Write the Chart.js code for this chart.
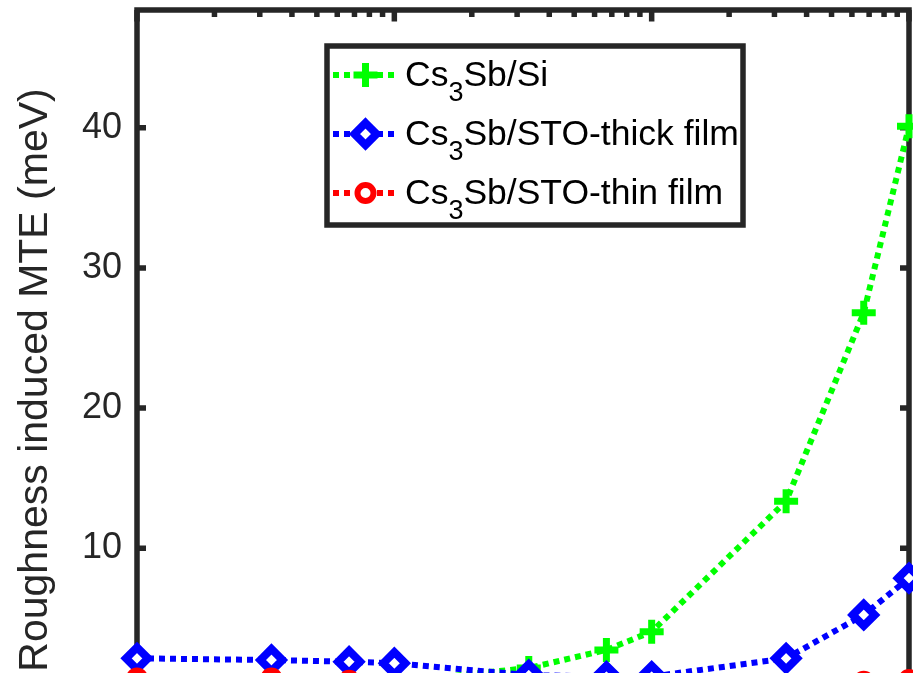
<!DOCTYPE html>
<html>
<head>
<meta charset="utf-8">
<script src="https://cdn.jsdelivr.net/npm/chart.js@4.4.1/dist/chart.umd.min.js"></script>
<style>
  html, body { margin: 0; padding: 0; background: #ffffff; overflow: hidden; }
  #wrap { width: 913px; height: 673px; overflow: hidden; position: relative; }
  canvas { display: block; }
</style>
</head>
<body>
<div id="wrap"><canvas id="chart" width="913" height="820"></canvas></div>
<script>
// Sample positions along the (logarithmic) horizontal axis
const xValues = [1, 3.33, 6.67, 10, 33.3, 66.7, 100, 333, 667, 1000];

// Roughness induced MTE (meV) for each film / substrate
const siValues       = [0.1, 0.2, 0.3, 0.45, 1.45, 2.74, 4.04, 13.35, 26.8, 40.1];
const stoThickValues = [2.14, 2.02, 1.9, 1.79, 0.94, 0.84, 0.84, 2.14, 5.24, 7.86];
const stoThinValues  = [0.71, 0.71, 0.54, 0.3, 0.15, 0.15, 0.2, 0.3, 0.47, 0.59];

// Left-axis tick values
const yTickValues = [10, 20, 30, 40];

// Legend entries: [main text, subscript, rest]
const siName       = ['Cs', '3', 'Sb/Si'];
const stoThickName = ['Cs', '3', 'Sb/STO-thick film'];
const stoThinName  = ['Cs', '3', 'Sb/STO-thin film'];

const FONT = "'Liberation Sans', Arial, Helvetica, sans-serif";
const AXIS_COLOR = '#262626';

function pts(ys) { return xValues.map((x, i) => ({ x: x, y: ys[i] })); }

// Marker shapes shared by plot and legend
function drawMarker(ctx, style, x, y, r, color, lw, fill) {
  ctx.save();
  ctx.setLineDash([]);
  ctx.lineWidth = lw;
  ctx.strokeStyle = color;
  ctx.fillStyle = fill;
  ctx.beginPath();
  if (style === 'cross') {
    ctx.moveTo(x - r, y); ctx.lineTo(x + r, y);
    ctx.moveTo(x, y - r); ctx.lineTo(x, y + r);
    ctx.stroke();
  } else if (style === 'rectRot') {
    ctx.moveTo(x, y - r); ctx.lineTo(x + r, y); ctx.lineTo(x, y + r); ctx.lineTo(x - r, y); ctx.closePath();
    ctx.fill(); ctx.stroke();
  } else {
    ctx.arc(x, y, r, 0, Math.PI * 2);
    ctx.fill(); ctx.stroke();
  }
  ctx.restore();
}

// Scales reserve no extra room for overhanging labels
function noOverhang(s) {
  s.paddingTop = 0; s.paddingBottom = 0; s.paddingLeft = 0; s.paddingRight = 0;
}

// Axes box with inward ticks, drawn beneath the data
const framePlugin = {
  id: 'frame',
  beforeDatasetsDraw(chart) {
    const { ctx, chartArea: a, scales } = chart;
    const xs = scales.x, ys = scales.y;
    ctx.save();
    ctx.strokeStyle = AXIS_COLOR;
    ctx.lineWidth = 5.5;
    ctx.lineCap = 'butt';
    ctx.beginPath();
    // y ticks on both sides
    yTickValues.forEach(v => {
      const py = ys.getPixelForValue(v);
      ctx.moveTo(a.left, py); ctx.lineTo(a.left + 9, py);
      ctx.moveTo(a.right, py); ctx.lineTo(a.right - 9, py);
    });
    // log ticks on top and bottom
    for (let d = xs.min; d <= xs.max; d *= 10) {
      for (let m = 1; m <= 9; m++) {
        const v = d * m;
        if (v > xs.max * 1.0001) break;
        const px = xs.getPixelForValue(v);
        const len = m === 1 ? 11.5 : 7;
        ctx.moveTo(px, a.top); ctx.lineTo(px, a.top + len);
        ctx.moveTo(px, a.bottom); ctx.lineTo(px, a.bottom - len);
      }
    }
    ctx.stroke();
    ctx.lineJoin = 'miter';
    ctx.strokeRect(a.left, a.top, a.right - a.left, a.bottom - a.top);
    ctx.restore();
  }
};

// Boxed legend with subscripted names
const legendPlugin = {
  id: 'boxLegend',
  afterDraw(chart, args, opts) {
    const ctx = chart.ctx;
    const b = opts.box;
    ctx.save();
    ctx.fillStyle = '#ffffff';
    ctx.fillRect(b.left, b.top, b.right - b.left, b.bottom - b.top);
    ctx.strokeStyle = AXIS_COLOR;
    ctx.lineWidth = 5.5;
    ctx.strokeRect(b.left, b.top, b.right - b.left, b.bottom - b.top);

    chart.data.datasets.slice().sort((p, q) => p.legendIndex - q.legendIndex).forEach((ds, i) => {
      const cy = opts.firstRowY + i * opts.rowGap;
      // sample line
      ctx.save();
      ctx.strokeStyle = ds.borderColor;
      ctx.lineWidth = ds.borderWidth;
      ctx.setLineDash(ds.borderDash);
      ctx.beginPath();
      ctx.moveTo(opts.lineStart, cy);
      ctx.lineTo(opts.lineEnd, cy);
      ctx.stroke();
      ctx.restore();
      drawMarker(ctx, ds.pointStyle, (opts.lineStart + opts.lineEnd) / 2, cy,
        ds.pointRadius, ds.pointBorderColor, ds.pointBorderWidth, ds.pointBackgroundColor);

      // text with subscript
      const parts = ds.nameParts;
      const base = cy + opts.baselineShift;
      let tx = opts.textX;
      ctx.fillStyle = '#000000';
      ctx.textBaseline = 'alphabetic';
      ctx.textAlign = 'left';
      ctx.font = opts.fontSize + 'px ' + FONT;
      ctx.fillText(parts[0], tx, base);
      tx += ctx.measureText(parts[0]).width;
      ctx.font = opts.subSize + 'px ' + FONT;
      ctx.fillText(parts[1], tx, base + opts.subShift);
      tx += ctx.measureText(parts[1]).width;
      ctx.font = opts.fontSize + 'px ' + FONT;
      ctx.fillText(parts[2], tx, base);
    });
    ctx.restore();
  }
};

const dotted = [6, 5];

new Chart(document.getElementById('chart'), {
  type: 'line',
  data: {
    datasets: [
      {
        label: 'Cs3Sb/Si', nameParts: siName, legendIndex: 0,
        data: pts(siValues),
        borderColor: '#00ff00', borderWidth: 6, borderDash: dotted,
        pointStyle: 'cross', pointRadius: 12, pointBorderWidth: 7,
        pointBorderColor: '#00ff00', pointBackgroundColor: '#00ff00',
        fill: false, tension: 0, clip: false, order: 3
      },
      {
        label: 'Cs3Sb/STO-thick film', nameParts: stoThickName, legendIndex: 1,
        data: pts(stoThickValues),
        borderColor: '#0000ff', borderWidth: 6, borderDash: dotted,
        pointStyle: 'rectRot', pointRadius: 11, pointBorderWidth: 8,
        pointBorderColor: '#0000ff', pointBackgroundColor: '#ffffff',
        fill: false, tension: 0, clip: false, order: 2
      },
      {
        label: 'Cs3Sb/STO-thin film', nameParts: stoThinName, legendIndex: 2,
        data: pts(stoThinValues),
        borderColor: '#ff0000', borderWidth: 6, borderDash: dotted,
        pointStyle: 'circle', pointRadius: 8, pointBorderWidth: 6,
        pointBorderColor: '#ff0000', pointBackgroundColor: '#ffffff',
        fill: false, tension: 0, clip: false, order: 1
      }
    ]
  },
  options: {
    responsive: false,
    animation: false,
    devicePixelRatio: 1,
    layout: { autoPadding: false, padding: { left: 0, top: 10, right: 4, bottom: 0 } },
    plugins: {
      legend: { display: false },
      tooltip: { enabled: false },
      boxLegend: {
        box: { left: 327, top: 46, right: 743, bottom: 225 },
        firstRowY: 75, rowGap: 59,
        lineStart: 333, lineEnd: 398,
        textX: 405, baselineShift: 11,
        fontSize: 35.5, subSize: 27, subShift: 15
      }
    },
    scales: {
      x: {
        type: 'logarithmic',
        min: 1, max: 1000,
        grid: { display: false, drawTicks: false },
        border: { display: false },
        ticks: { display: false },
        afterFit(s) { s.height = 70; noOverhang(s); }
      },
      y: {
        type: 'linear',
        min: -4.4, max: 48.4,
        grid: { display: false, drawTicks: false },
        border: { display: false },
        afterBuildTicks(s) { s.ticks = yTickValues.map(v => ({ value: v })); },
        afterFit(s) { s.width = 137; noOverhang(s); },
        ticks: {
          color: AXIS_COLOR,
          padding: 15,
          font: { family: FONT, size: 36 }
        },
        title: {
          display: true,
          text: 'Roughness induced MTE (meV)',
          color: AXIS_COLOR,
          font: { family: FONT, size: 41 },
          padding: { top: 11, bottom: 0 }
        }
      }
    }
  },
  plugins: [framePlugin, legendPlugin]
});
</script>
</body>
</html>
